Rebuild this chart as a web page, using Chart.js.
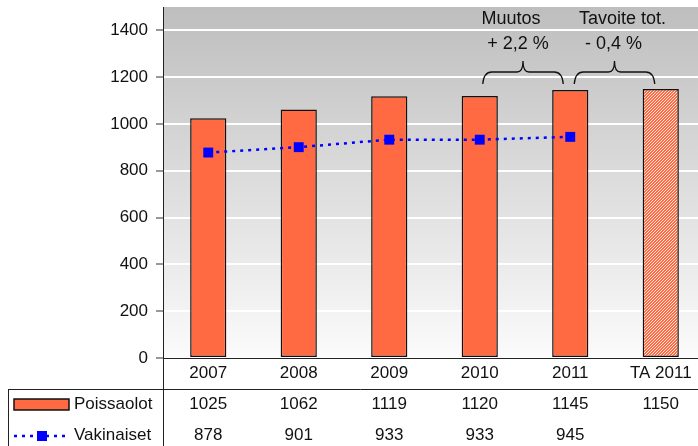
<!DOCTYPE html>
<html>
<head>
<meta charset="utf-8">
<script src="https://cdn.jsdelivr.net/npm/chart.js@4/dist/chart.umd.min.js"></script>
<style>
    html, body { margin: 0; padding: 0; background: #fff; }
    #wrap { width: 698px; height: 446px; overflow: hidden; }
</style>
</head>
<body>
<div id="wrap"><canvas id="chart" width="713" height="446"></canvas></div>
<script>
/** ── Données ─────────────────────────────────────────────────────── */
const categories = ['2007', '2008', '2009', '2010', '2011', 'TA 2011'];
const poissaolot = [1025, 1062, 1119, 1120, 1145, 1150];
const vakinaiset = [878, 901, 933, 933, 945, null];
const yTicks = [0, 200, 400, 600, 800, 1000, 1200, 1400];
const seriesNames = ['Poissaolot', 'Vakinaiset'];
const notes = [
    { title: 'Muutos', value: '+ 2,2 %' },
    { title: 'Tavoite tot.', value: '- 0,4 %' },
];

/** ── Styles ──────────────────────────────────────────────────────── */
const FONT = '"Liberation Sans", Arial, sans-serif';
const ORANGE = '#FF6A42';
const BLUE = '#0000FF';
const INK = '#111';

function hatchPattern() {
    const c = document.createElement('canvas');
    c.width = 3;
    c.height = 3;
    const g = c.getContext('2d');
    g.fillStyle = ORANGE;
    g.fillRect(0, 0, 3, 3);
    g.fillStyle = '#FFE6DE';
    for (let i = 0; i < 3; i++) g.fillRect(i, (3 - i) % 3, 1, 1);
    return g.createPattern(c, 'repeat');
}

function drawBrace(ctx, x1, x2, yb, yt) {
    const ym = yb - 12;
    const xm = (x1 + x2) / 2;
    ctx.beginPath();
    ctx.moveTo(x1, yb);
    ctx.quadraticCurveTo(x1 + 1, ym, x1 + 9, ym);
    ctx.lineTo(xm - 6, ym);
    ctx.quadraticCurveTo(xm, ym, xm, yt);
    ctx.quadraticCurveTo(xm, ym, xm + 6, ym);
    ctx.lineTo(x2 - 9, ym);
    ctx.quadraticCurveTo(x2 - 1, ym, x2, yb);
    ctx.stroke();
}

/** ── Plugins ─────────────────────────────────────────────────────── */
const backdrop = {
    id: 'backdrop',
    beforeDraw(chart) {
        const { ctx, chartArea: a } = chart;
        const grad = ctx.createLinearGradient(0, a.top, 0, a.bottom);
        grad.addColorStop(0, '#BEBEBE');
        grad.addColorStop(1, '#FBFBFB');
        ctx.save();
        ctx.fillStyle = grad;
        ctx.fillRect(a.left, a.top, a.right - a.left, a.bottom - a.top);
        ctx.restore();
    },
};

const dataTable = {
    id: 'dataTable',
    afterDraw(chart) {
        const { ctx, chartArea: a, scales: { x } } = chart;
        const H = chart.height;
        const lineY = a.bottom + 31;
        const row1 = lineY + 15;
        const row2 = lineY + 46;

        ctx.save();
        ctx.strokeStyle = '#222';
        ctx.lineWidth = 1;
        ctx.beginPath();
        ctx.moveTo(a.left + 0.5, a.bottom);
        ctx.lineTo(a.left + 0.5, H);
        ctx.moveTo(8, lineY + 0.5);
        ctx.lineTo(chart.width, lineY + 0.5);
        ctx.moveTo(8.5, lineY);
        ctx.lineTo(8.5, H);
        ctx.stroke();

        ctx.font = `17px ${FONT}`;
        ctx.fillStyle = INK;
        ctx.textAlign = 'center';
        ctx.textBaseline = 'middle';
        categories.forEach((_, i) => {
            const px = x.getPixelForValue(i);
            if (poissaolot[i] != null) ctx.fillText(String(poissaolot[i]), px, row1);
            if (vakinaiset[i] != null) ctx.fillText(String(vakinaiset[i]), px, row2);
        });

        // légende dans le tableau
        ctx.fillStyle = ORANGE;
        ctx.fillRect(14, row1 - 5, 55, 11);
        ctx.lineWidth = 1.5;
        ctx.strokeStyle = '#111';
        ctx.strokeRect(14, row1 - 5, 55, 11);

        ctx.strokeStyle = BLUE;
        ctx.lineWidth = 2.5;
        ctx.setLineDash([3, 5]);
        ctx.beginPath();
        ctx.moveTo(14, row2 + 1);
        ctx.lineTo(68, row2 + 1);
        ctx.stroke();
        ctx.setLineDash([]);
        ctx.fillStyle = BLUE;
        ctx.fillRect(37, row2 - 4, 10, 10);

        ctx.fillStyle = INK;
        ctx.textAlign = 'left';
        ctx.fillText(seriesNames[0], 74, row1);
        ctx.fillText(seriesNames[1], 74, row2);
        ctx.restore();
    },
};

const braces = {
    id: 'braces',
    afterDatasetsDraw(chart) {
        const { ctx, chartArea: a, scales: { x } } = chart;
        const spans = [
            [x.getPixelForValue(3) + 3, x.getPixelForValue(4) - 7],
            [x.getPixelForValue(4) + 4, x.getPixelForValue(5) - 6],
        ];
        const titleDx = [-12, 8];
        const valueDx = [-5, -1];
        ctx.save();
        ctx.strokeStyle = '#111';
        ctx.lineWidth = 1.3;
        ctx.font = `18px ${FONT}`;
        ctx.fillStyle = INK;
        ctx.textAlign = 'center';
        ctx.textBaseline = 'middle';
        spans.forEach(([x1, x2], i) => {
            drawBrace(ctx, x1, x2, a.top + 77, a.top + 54);
            const mid = (x1 + x2) / 2;
            ctx.fillText(notes[i].title, mid + titleDx[i], a.top + 12);
            ctx.fillText(notes[i].value, mid + valueDx[i], a.top + 37);
        });
        ctx.restore();
    },
};

/** ── Graphique ───────────────────────────────────────────────────── */
const canvas = document.getElementById('chart');
const ctx = canvas.getContext('2d');
const hatch = hatchPattern();

new Chart(ctx, {
    data: {
        labels: categories,
        datasets: [
            {
                type: 'line',
                label: seriesNames[1],
                data: vakinaiset,
                order: 0,
                borderColor: BLUE,
                borderWidth: 2.5,
                borderDash: [3, 5],
                pointStyle: 'rect',
                pointRadius: 7,
                pointBackgroundColor: BLUE,
                pointBorderColor: BLUE,
                pointBorderWidth: 0,
                tension: 0,
            },
            {
                type: 'bar',
                label: seriesNames[0],
                data: poissaolot,
                order: 1,
                backgroundColor: poissaolot.map((_, i) => i === poissaolot.length - 1 ? hatch : ORANGE),
                borderColor: '#111',
                borderWidth: 1.5,
                borderSkipped: false,
                categoryPercentage: 1,
                barPercentage: 0.4,
            },
        ],
    },
    options: {
        responsive: false,
        animation: false,
        devicePixelRatio: 1,
        layout: { padding: { top: 7, right: 0, bottom: 56, left: 0 } },
        plugins: { legend: { display: false }, tooltip: { enabled: false } },
        scales: {
            x: {
                grid: { drawOnChartArea: false, drawTicks: false },
                border: { display: true, color: '#222', width: 1 },
                ticks: { color: INK, font: { family: FONT, size: 17 }, padding: 5, maxRotation: 0 },
                afterFit: scale => {
                    scale.height = 32;
                    scale.paddingLeft = 0;
                    scale.paddingRight = 0;
                },
            },
            y: {
                min: 0,
                max: 1500,
                afterBuildTicks: scale => { scale.ticks = yTicks.map(v => ({ value: v })); },
                grid: { color: '#FFFFFF', lineWidth: 2, tickColor: '#333', tickLength: 7, tickWidth: 1 },
                border: { display: true, color: '#222', width: 1 },
                ticks: {
                    color: INK,
                    font: { family: FONT, size: 17 },
                    padding: 8,
                    callback: v => String(v),
                },
                afterFit: scale => {
                    scale.width = 163;
                    scale.paddingTop = 0;
                    scale.paddingBottom = 0;
                },
            },
        },
    },
    plugins: [backdrop, braces, dataTable],
});
</script>
</body>
</html>
